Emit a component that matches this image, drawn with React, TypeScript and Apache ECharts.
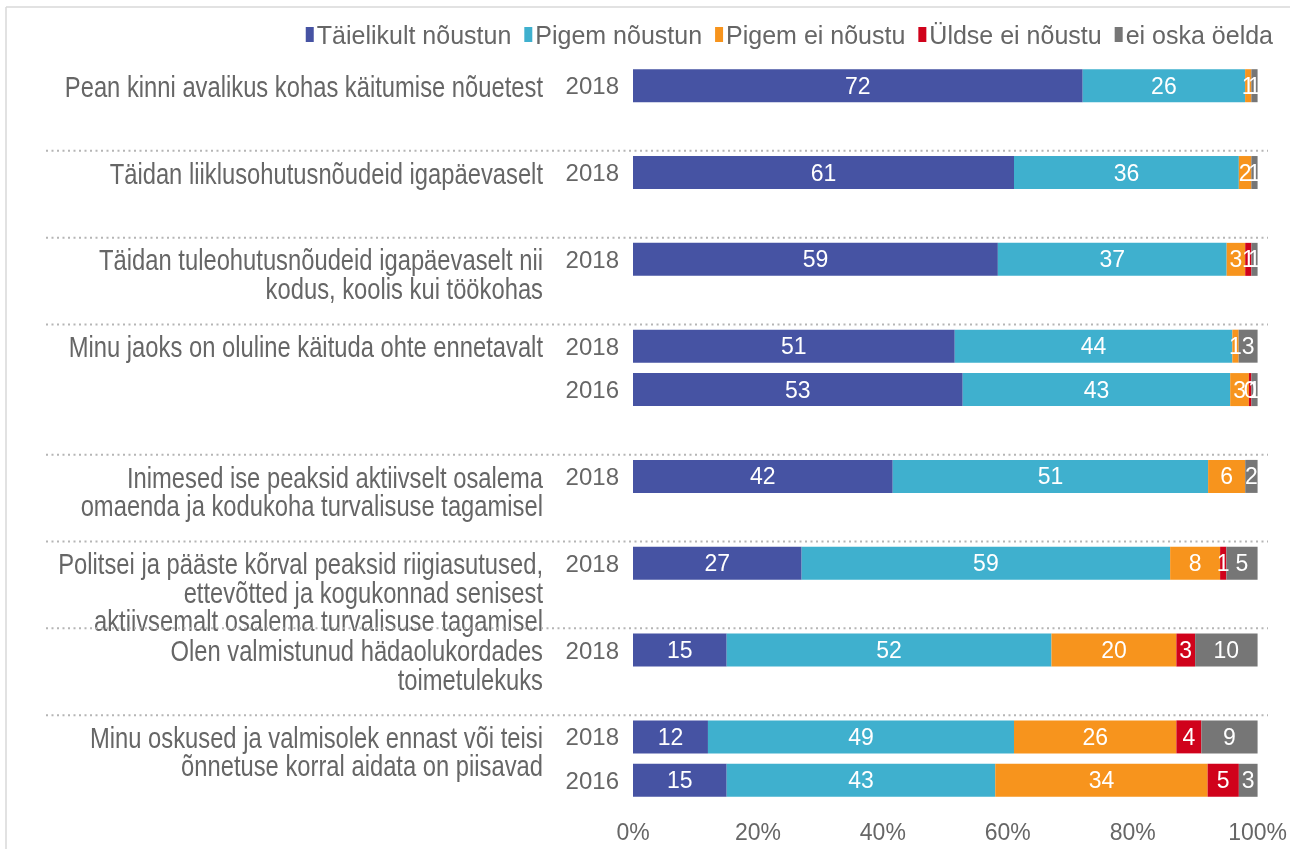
import React, { useEffect, useRef } from "react";
import * as echarts from "echarts";

const FONT = "'Liberation Sans', Arial, sans-serif";
const TEXT = "#666666";

const seriesNames = ["Täielikult nõustun", "Pigem nõustun", "Pigem ei nõustu", "Üldse ei nõustu", "ei oska öelda"];
const colors = ["#4653A3", "#3FB0CE", "#F7941D", "#D0021B", "#767676"];

// 17 slots; empty strings/nulls are spacer rows between statements
const yearLabels = ["2018", "", "2018", "", "2018", "", "2018", "2016", "", "2018", "", "2018", "", "2018", "", "2018", "2016"];
const taielikult = [72, null, 61, null, 59, null, 51, 53, null, 42, null, 27, null, 15, null, 12, 15];
const pigemNoustun = [26, null, 36, null, 37, null, 44, 43, null, 51, null, 59, null, 52, null, 49, 43];
const pigemEi = [1, null, 2, null, 3, null, 1, 3, null, 6, null, 8, null, 20, null, 26, 34];
const uldseEi = [0, null, 0, null, 1, null, 0, 0.4, null, 0, null, 1, null, 3, null, 4, 5];
const eiOska = [1, null, 1, null, 1, null, 3, 1, null, 2, null, 5, null, 10, null, 9, 3];

const statements = [
  "Pean kinni avalikus kohas käitumise nõuetest",
  "Täidan liiklusohutusnõudeid igapäevaselt",
  "Täidan tuleohutusnõudeid igapäevaselt nii\nkodus, koolis kui töökohas",
  "Minu jaoks on oluline käituda ohte ennetavalt",
  "Inimesed ise peaksid aktiivselt osalema\nomaenda ja kodukoha turvalisuse tagamisel",
  "Politsei ja pääste kõrval peaksid riigiasutused,\nettevõtted ja kogukonnad senisest\naktiivsemalt osalema turvalisuse tagamisel",
  "Olen valmistunud hädaolukordades\ntoimetulekuks",
  "Minu oskused ja valmisolek ennast või teisi\nõnnetuse korral aidata on piisavad",
];
const statementSlots = [0, 2, 4, 6, 9, 11, 13, 15];
const xTicks = [0, 20, 40, 60, 80, 100];

export default function App() {
  const ref = useRef<HTMLDivElement>(null);
  useEffect(() => {
    if (!ref.current) return;
    const chart = echarts.init(ref.current, undefined, { renderer: "svg", width: 1290, height: 849 });
    const raw = [taielikult, pigemNoustun, pigemEi, uldseEi, eiOska];
    const sums = yearLabels.map((_, i) => raw.reduce((s, arr) => s + (arr[i] ?? 0), 0));
    const series = raw.map((arr, si) => ({
      name: seriesNames[si],
      type: "bar",
      stack: "total",
      barWidth: 33,
      itemStyle: { color: colors[si] },
      data: arr.map((v, i) => (v == null || v === 0 ? null : (v / sums[i]) * 100)),
      label: {
        show: true,
        position: "inside",
        color: "#ffffff",
        fontFamily: FONT,
        fontSize: 23,
        formatter: (p: any) => {
          const r = arr[p.dataIndex];
          return r == null || r === 0 ? "" : String(Math.round(r));
        },
      },
    }));
    chart.setOption({
      animation: false,
      legend: {
        top: 17,
        right: 12,
        icon: "rect",
        itemWidth: 8,
        itemHeight: 15,
        itemGap: 13,
        textStyle: { fontFamily: FONT, fontSize: 25, color: TEXT, padding: [0, 0, 0, -2] },
        data: seriesNames,
      },
      grid: { left: 633, right: 30, top: 64, bottom: 47 },
      xAxis: {
        type: "value",
        min: 0,
        max: 100,
        interval: 20,
        axisLine: { show: false },
        axisTick: { show: false },
        splitLine: { show: false },
        axisLabel: {
          margin: 18,
          color: TEXT,
          fontFamily: FONT,
          fontSize: 23,
          formatter: (v: number) => (xTicks.includes(v) ? v + "%" : ""),
        },
      },
      yAxis: {
        type: "category",
        inverse: true,
        data: yearLabels,
        axisLine: { show: false },
        axisTick: { show: false },
        axisLabel: { margin: 14, color: TEXT, fontFamily: FONT, fontSize: 24 },
      },
      series,
    });

    const cy = (i: number) => chart.convertToPixel({ yAxisIndex: 0 }, i) as number;
    const left = 633;
    const graphics: any[] = [
      { type: "line", shape: { x1: 6, y1: 7, x2: 1290, y2: 7 }, style: { stroke: "#d9d9d9", lineWidth: 1.5 } },
      { type: "line", shape: { x1: 6, y1: 7, x2: 6, y2: 849 }, style: { stroke: "#d9d9d9", lineWidth: 1.5 } },
    ];
    statementSlots.forEach((slot, k) => {
      const y = cy(slot);
      graphics.push({
        type: "text",
        x: left - 90,
        y: y - 13,
        scaleX: 0.82,
        style: {
          text: statements[k],
          fill: TEXT,
          font: `29px ${FONT}`,
          align: "right",
          verticalAlign: "top",
          lineHeight: 28.5,
        },
      });
      if (k > 0) {
        const ys = (cy(slot - 1) + y) / 2;
        graphics.push({
          type: "line",
          shape: { x1: 46, y1: ys, x2: 1268, y2: ys },
          style: { stroke: "#b5b5b5", lineWidth: 2, lineDash: [2, 3.5] },
        });
      }
    });
    chart.setOption({ graphic: graphics });
    return () => chart.dispose();
  }, []);
  return <div ref={ref} style={{ position: "fixed", left: 0, top: 0, width: 1290, height: 849 }} />;
}
